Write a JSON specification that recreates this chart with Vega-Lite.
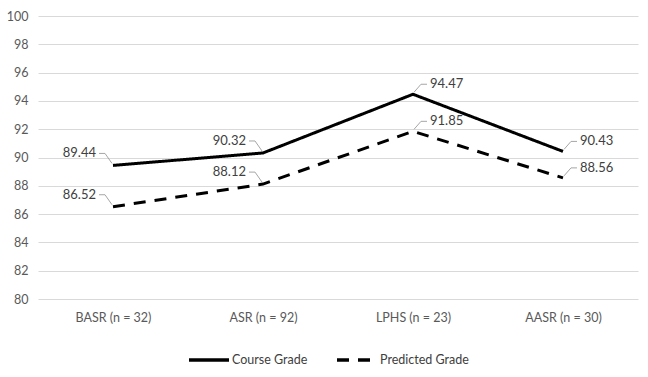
{
  "$schema": "https://vega.github.io/schema/vega-lite/v6.json",
  "autosize": {"type": "none"},
  "width": 600,
  "height": 283,
  "padding": {"left": 38, "top": 16, "right": 10, "bottom": 78},
  "config": {
    "view": {"stroke": null},
    "font": "Lato",
    "axis": {"labelFont": "Lato", "labelColor": "#595959", "labelFontSize": 12.5}
  },
  "data": {
    "values": [
      {"group": "BASR (n = 32)", "series": "Course Grade", "value": 89.44},
      {"group": "ASR (n = 92)", "series": "Course Grade", "value": 90.32},
      {"group": "LPHS (n = 23)", "series": "Course Grade", "value": 94.47},
      {"group": "AASR (n = 30)", "series": "Course Grade", "value": 90.43},
      {"group": "BASR (n = 32)", "series": "Predicted Grade", "value": 86.52},
      {"group": "ASR (n = 92)", "series": "Predicted Grade", "value": 88.12},
      {"group": "LPHS (n = 23)", "series": "Predicted Grade", "value": 91.85},
      {"group": "AASR (n = 30)", "series": "Predicted Grade", "value": 88.56}
    ]
  },
  "encoding": {
    "x": {
      "field": "group", "type": "nominal", "sort": null,
      "scale": {"type": "point", "padding": 0.5},
      "axis": {"title": null, "domain": false, "ticks": false, "labelAngle": 0, "labelPadding": 12, "grid": false}
    },
    "y": {
      "field": "value", "type": "quantitative",
      "scale": {"domain": [80, 100], "nice": false, "zero": false},
      "axis": {"title": null, "values": [80, 82, 84, 86, 88, 90, 92, 94, 96, 98, 100], "domain": false, "ticks": false, "labelPadding": 10, "gridColor": "#d9d9d9", "gridWidth": 1}
    }
  },
  "layer": [
    {
      "mark": {"type": "line", "strokeWidth": 3, "color": "black", "strokeCap": "butt"},
      "encoding": {
        "strokeDash": {
          "field": "series", "type": "nominal",
          "scale": {"domain": ["Course Grade", "Predicted Grade"], "range": [[1, 0], [12, 9]]},
          "legend": {
            "title": null, "orient": "none", "direction": "horizontal",
            "legendX": 149, "legendY": 322,
            "symbolType": "stroke", "symbolSize": 1600, "symbolStrokeWidth": 3.5,
            "symbolStrokeColor": "black", "labelFontSize": 12.5, "labelColor": "#404040",
            "labelOffset": 1, "columnPadding": 22, "labelFont": "Lato"
          }
        }
      }
    },
    {
      "transform": [{"filter": "indexof(['BASR (n = 32)','ASR (n = 92)'], datum.group) >= 0"}],
      "layer": [
        {
          "mark": {"type": "rule", "color": "#a6a6a6", "strokeWidth": 1, "xOffset": -14, "x2Offset": -8, "yOffset": -12, "y2Offset": -12},
          "encoding": {"x2": {"field": "group"}, "y2": {"field": "value"}}
        },
        {
          "mark": {"type": "rule", "color": "#a6a6a6", "strokeWidth": 1, "xOffset": -8, "x2Offset": -1, "yOffset": -12, "y2Offset": -2},
          "encoding": {"x2": {"field": "group"}, "y2": {"field": "value"}}
        },
        {
          "mark": {"type": "text", "align": "right", "baseline": "middle", "dx": -17, "dy": -12, "fontSize": 13, "color": "#404040", "font": "Lato"},
          "encoding": {"text": {"field": "value", "type": "quantitative", "format": ".2f"}}
        }
      ]
    },
    {
      "transform": [{"filter": "indexof(['LPHS (n = 23)','AASR (n = 30)'], datum.group) >= 0"}],
      "layer": [
        {
          "mark": {"type": "rule", "color": "#a6a6a6", "strokeWidth": 1, "xOffset": 1, "x2Offset": 8, "yOffset": -2, "y2Offset": -10},
          "encoding": {"x2": {"field": "group"}, "y2": {"field": "value"}}
        },
        {
          "mark": {"type": "rule", "color": "#a6a6a6", "strokeWidth": 1, "xOffset": 8, "x2Offset": 14, "yOffset": -10, "y2Offset": -10},
          "encoding": {"x2": {"field": "group"}, "y2": {"field": "value"}}
        },
        {
          "mark": {"type": "text", "align": "left", "baseline": "middle", "dx": 17, "dy": -10, "fontSize": 13, "color": "#404040", "font": "Lato"},
          "encoding": {"text": {"field": "value", "type": "quantitative", "format": ".2f"}}
        }
      ]
    }
  ]
}
